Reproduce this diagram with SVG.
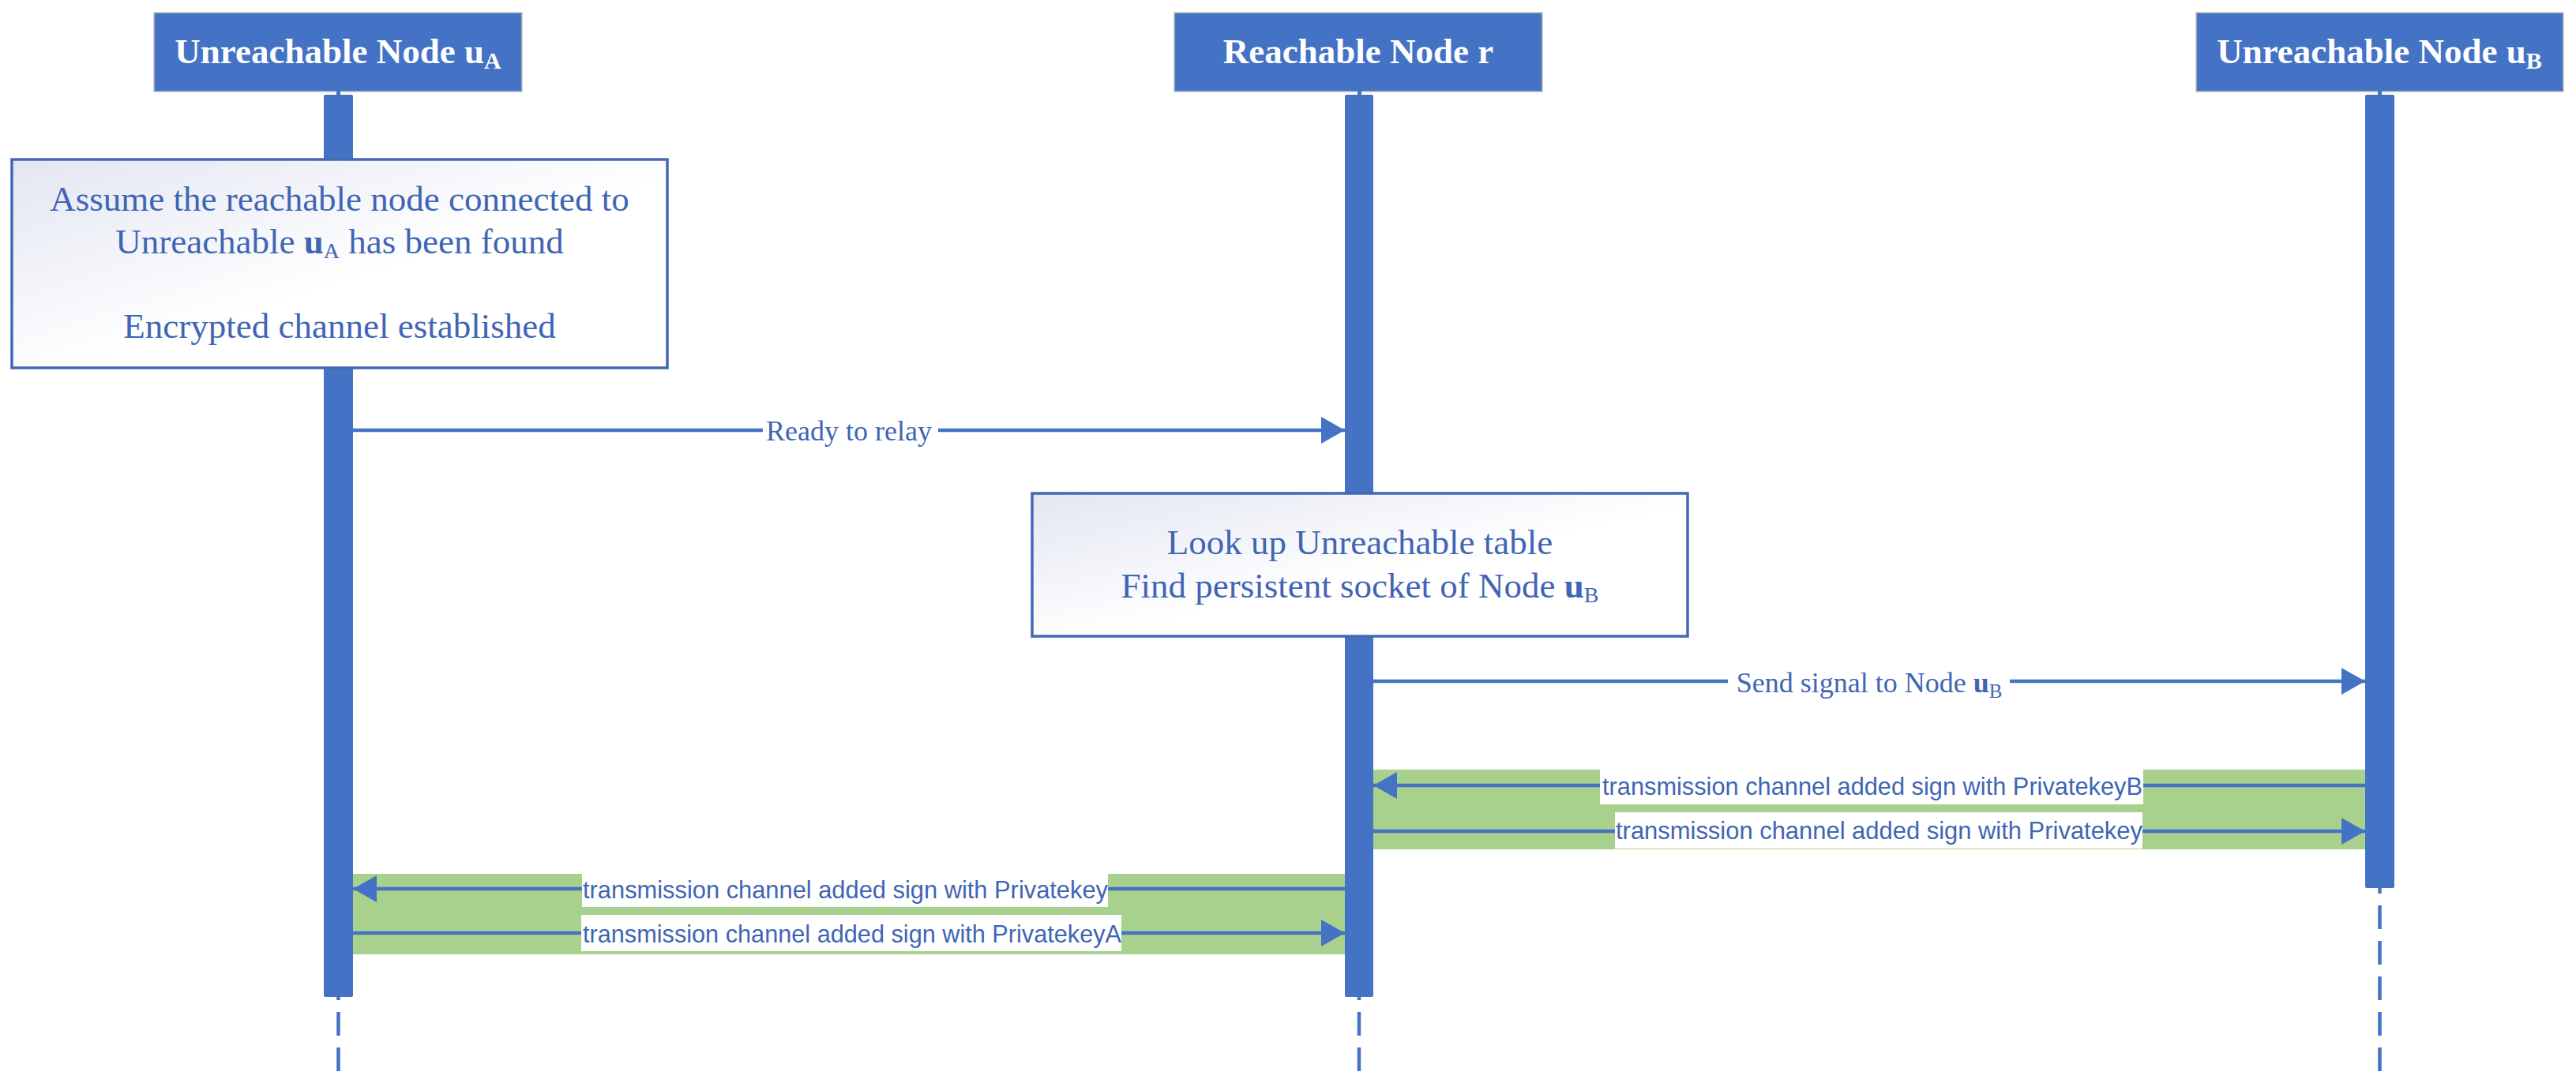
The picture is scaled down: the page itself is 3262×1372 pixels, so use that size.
<svg xmlns="http://www.w3.org/2000/svg" width="3262" height="1372" viewBox="0 0 3262 1372">
<defs>
<linearGradient id="boxgrad" x1="0" y1="0" x2="1" y2="1">
<stop offset="0" stop-color="#E3E6F2"/>
<stop offset="0.55" stop-color="#FFFFFF"/>
<stop offset="1" stop-color="#FFFFFF"/>
</linearGradient>
<marker id="arr" markerUnits="userSpaceOnUse" markerWidth="30" markerHeight="34" refX="30" refY="17" orient="auto">
<path d="M0,0 L30,17 L0,34 Z" fill="#4472C4"/>
</marker>
<style>
.hdr{fill:#4472C4;stroke:#BFBFBF;stroke-width:1.5}
.hdrtxt{font-family:"Liberation Serif","Times New Roman",serif;font-size:45px;font-weight:bold;fill:#FFFFFF;text-anchor:middle}
.bar{fill:#4472C4}
.dash{stroke:#4472C4;stroke-width:4.5;stroke-dasharray:30 15;fill:none}
.note{fill:url(#boxgrad);stroke:#4468B4;stroke-width:3.5}
.notetxt{font-family:"Liberation Serif","Times New Roman",serif;font-size:45px;fill:#4065B4;text-anchor:middle}
.msg{stroke:#4472C4;stroke-width:4.5;fill:none;marker-end:url(#arr)}
.lbl{font-family:"Liberation Serif","Times New Roman",serif;font-size:36px;fill:#4065B4;text-anchor:middle}
.band{fill:#A9D18E}
.lblbox{fill:#FFFFFF}
.sans{font-family:"Liberation Sans",Arial,sans-serif;font-size:32px;fill:#4065B4}
</style>
</defs>
<rect width="3262" height="1372" fill="#FFFFFF"/>

<g id="bands">
<rect class="band" x="1739" y="975" width="1256" height="101"/>
<rect class="band" x="447" y="1107" width="1256" height="102"/>
</g>

<g id="node-uA">
<rect class="hdr" x="195" y="16" width="466" height="100"/>
<text class="hdrtxt" x="428" y="80">Unreachable Node u<tspan font-size="30" dy="7">A</tspan></text>
<rect x="426" y="114" width="5" height="8" fill="#4472C4"/>
<line class="dash" x1="428.5" y1="1237" x2="428.5" y2="1372"/>
<rect class="bar" x="410" y="120" width="37" height="1143" rx="2"/>
</g>

<g id="node-r">
<rect class="hdr" x="1487" y="16" width="466" height="100"/>
<text class="hdrtxt" x="1720" y="80">Reachable Node r</text>
<rect x="1719" y="114" width="5" height="8" fill="#4472C4"/>
<line class="dash" x1="1721" y1="1237" x2="1721" y2="1372"/>
<rect class="bar" x="1703" y="120" width="36" height="1143" rx="2"/>
</g>

<g id="node-uB">
<rect class="hdr" x="2781" y="16" width="465" height="100"/>
<text class="hdrtxt" x="3013" y="80">Unreachable Node u<tspan font-size="30" dy="7">B</tspan></text>
<rect x="3011" y="114" width="5" height="8" fill="#4472C4"/>
<line class="dash" x1="3013.5" y1="1102" x2="3013.5" y2="1372"/>
<rect class="bar" x="2995" y="120" width="37" height="1005" rx="2"/>
</g>

<g id="note-found">
<rect class="note" x="15" y="202" width="830" height="264"/>
<text class="notetxt" x="430" y="267">Assume the reachable node connected to</text>
<text class="notetxt" x="430" y="321">Unreachable <tspan font-weight="bold">u</tspan><tspan font-size="28" dy="6">A</tspan><tspan dy="-6"> has been found</tspan></text>
<text class="notetxt" x="430" y="428">Encrypted channel established</text>
</g>

<g id="note-lookup">
<rect class="note" x="1307" y="625" width="830" height="181"/>
<text class="notetxt" x="1722" y="702">Look up Unreachable table</text>
<text class="notetxt" x="1722" y="757">Find persistent socket of Node <tspan font-weight="bold">u</tspan><tspan font-size="28" dy="6">B</tspan></text>
</g>

<g id="connectors">
<line class="msg" x1="447" y1="545" x2="1703" y2="545"/>
<line class="msg" x1="1739" y1="863" x2="2995" y2="863"/>
<line class="msg" x1="2995" y1="995" x2="1739" y2="995"/>
<line class="msg" x1="1739" y1="1053" x2="2995" y2="1053"/>
<line class="msg" x1="1703" y1="1126" x2="447" y2="1126"/>
<line class="msg" x1="447" y1="1182" x2="1703" y2="1182"/>
</g>

<g id="labels">
<rect class="lblbox" x="966" y="525" width="222" height="40"/>
<text class="lbl" x="1075" y="558">Ready to relay</text>
<rect class="lblbox" x="2188" y="843" width="357" height="44"/>
<text class="lbl" x="2367" y="877">Send signal to Node <tspan font-weight="bold">u</tspan><tspan font-size="25" dy="7">B</tspan></text>
<rect class="lblbox" x="2026" y="975" width="688" height="44"/>
<text class="sans" x="2029" y="1007" textLength="684" lengthAdjust="spacingAndGlyphs">transmission channel added sign with PrivatekeyB</text>
<rect class="lblbox" x="2045" y="1029" width="668" height="46"/>
<text class="sans" x="2046" y="1063" textLength="667" lengthAdjust="spacingAndGlyphs">transmission channel added sign with Privatekey</text>
<rect class="lblbox" x="737" y="1107" width="666" height="42"/>
<text class="sans" x="738" y="1138" textLength="665" lengthAdjust="spacingAndGlyphs">transmission channel added sign with Privatekey</text>
<rect class="lblbox" x="736" y="1159" width="684" height="46"/>
<text class="sans" x="738" y="1194" textLength="682" lengthAdjust="spacingAndGlyphs">transmission channel added sign with PrivatekeyA</text>
</g>
</svg>
